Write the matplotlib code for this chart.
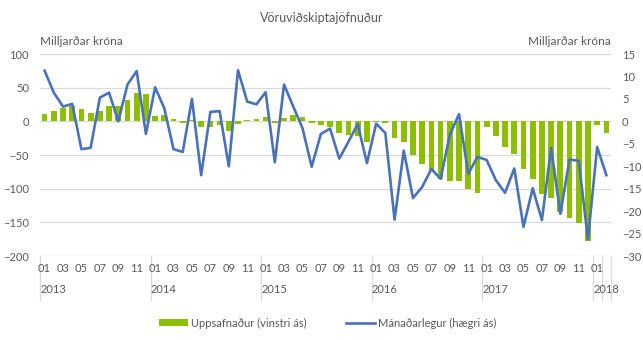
import numpy as np
import matplotlib.pyplot as plt
import matplotlib.transforms as mtransforms

plt.rcParams['font.family'] = ['Lato', 'DejaVu Sans']

years = [2013, 2014, 2015, 2016, 2017, 2018]
months_per_year = [12, 12, 12, 12, 12, 2]

# uppsafnaður, vinstri ás (milljarðar króna)
cumulative = [11, 16, 20, 23, 18, 12, 16, 23, 23, 32, 42, 41,
              8, 9, 3, -2, 2, -9, -8, -5, -15, -4, 2, 3,
              6, -2, 5, 9, 6, -3, -6, -9, -17, -20, -22, -30,
              -1, -3, -25, -31, -50, -64, -72, -86, -89, -88, -100, -107,
              -8, -21, -38, -48, -71, -85, -108, -114, -134, -144, -151, -177,
              -5, -17]

# mánaðarlegur, hægri ás (milljarðar króna)
monthly = [11.3, 6.4, 3.3, 3.9, -6.2, -5.9, 5.3, 6.4, 0.0, 8.2, 11.2, -2.8,
           7.6, 2.9, -6.2, -6.8, 5.0, -12.0, 2.1, 2.3, -10.0, 11.4, 4.4, 3.8,
           6.5, -9.1, 8.2, 3.3, -1.5, -10.1, -2.8, -1.6, -8.3, -4.5, -0.6, -9.3,
           -0.5, -2.6, -21.9, -6.5, -17.1, -14.6, -10.6, -12.8, -3.0, 1.6, -11.7, -7.9,
           -8.6, -13.1, -15.9, -10.5, -23.5, -14.9, -22.0, -5.9, -20.6, -8.5, -8.8, -26.3,
           -5.7, -12.0]

month_nums = []
for n in months_per_year:
    month_nums += list(range(1, n + 1))
x = np.arange(len(cumulative))

grey = '#595959'
gridc = '#d9d9d9'

fig = plt.figure(figsize=(6.43, 3.40), dpi=100)
ax = fig.add_axes([0.0622, 0.247, 0.888, 0.594])
ax2 = ax.twinx()

bars = ax.bar(x, cumulative, width=0.62, color='#8cbf00', zorder=2,
              label='Uppsafnaður (vinstri ás)')
line, = ax2.plot(x, monthly, color='#4a72b8', lw=1.9, zorder=3,
                 label='Mánaðarlegur (hægri ás)')

ax.set_xlim(-0.5, len(x) - 0.5)
ax.set_ylim(-200, 100)
ax.set_yticks(np.arange(-200, 101, 50))
ax2.set_ylim(-30, 15)
ax2.set_yticks(np.arange(-30, 16, 5))
ax.grid(axis='y', color=gridc, lw=0.9, zorder=0)
ax.set_axisbelow(True)

for a in (ax, ax2):
    for s in a.spines.values():
        s.set_visible(False)
    a.tick_params(axis='y', length=0, pad=8, labelsize=8, labelcolor=grey)
ax.tick_params(axis='x', length=0, labelbottom=False)

# kategoríuás með mánuðum og árum
tr = ax.get_xaxis_transform()
for i, m in zip(x, month_nums):
    if m % 2 == 1:
        ax.text(i, -0.06, '%02d' % m, transform=tr, ha='center', va='center',
                fontsize=8, color=grey)
start = 0
bounds = [-0.5]
for yr, n in zip(years, months_per_year):
    ax.text(start - 0.5 + 0.05, -0.168, str(yr), transform=tr, ha='left',
            va='center', fontsize=8, color=grey)
    start += n
    bounds.append(start - 0.5)
bounds.append(len(x) - 1.5)
for b in bounds:
    ax.plot([b, b], [0, -0.22], transform=tr, color=gridc, lw=0.9,
            clip_on=False)

ax.text(0, 1.06, 'Milljarðar króna', transform=ax.transAxes, ha='left',
        va='center', fontsize=8.5, color=grey)
ax.text(1, 1.06, 'Milljarðar króna', transform=ax.transAxes, ha='right',
        va='center', fontsize=8.5, color=grey)
fig.text(0.5, 0.948, 'Vöruviðskiptajöfnuður', ha='center', va='center',
         fontsize=9, color=grey)

fig.legend(handles=[bars, line], loc='center', bbox_to_anchor=(0.51, 0.05),
           ncol=2, frameon=False, fontsize=8, labelcolor=grey,
           handlelength=2.6, handleheight=0.6, handletextpad=0.3,
           columnspacing=3.5)

fig.savefig('out.png', dpi=100)
